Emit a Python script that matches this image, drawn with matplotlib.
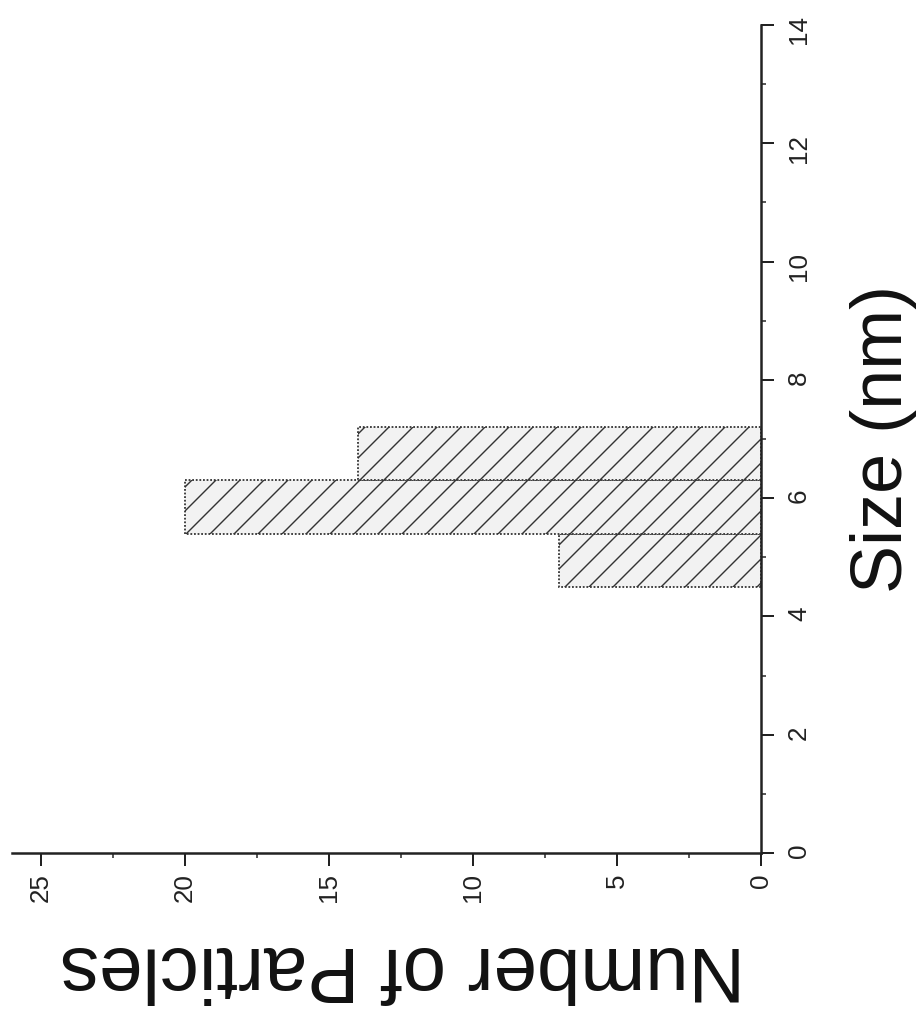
import numpy as np
import matplotlib
matplotlib.use("Agg")
import matplotlib.pyplot as plt
from matplotlib import font_manager
from matplotlib.ticker import MultipleLocator

# ====================== DATA ======================
bin_left = [4.5, 5.4, 6.3]      # size bin start (nm)
bin_width = 0.9
counts = [7, 20, 14]            # number of particles per bin
size_ticks = [0, 2, 4, 6, 8, 10, 12, 14]
count_ticks = [0, 5, 10, 15, 20, 25]

# ====================== FONTS ======================
names = {f.name for f in font_manager.fontManager.ttflist}
WIDE = "Liberation Sans" if "Liberation Sans" in names else "DejaVu Sans"
HAS_NARROW = "Liberation Sans Narrow" in names
NARROW = "Liberation Sans Narrow" if HAS_NARROW else WIDE
# scanned text along the vertical is squeezed; without a narrow face use a smaller size
size_label_fs = 78 if HAS_NARROW else 72
tick_fs = 28 if HAS_NARROW else 26

# the scan is a histogram turned 90 degrees: size runs up, counts run left
W, H, DPI = 923, 1013, 72
fig = plt.figure(figsize=(W / DPI, H / DPI), dpi=DPI)
ax = fig.add_axes([12 / W, 1 - 853 / H, 749 / W, 828 / H])

plt.rcParams['hatch.linewidth'] = 1.4
ax.barh(bin_left, counts, height=bin_width, align='edge',
        facecolor='#f2f2f2', edgecolor='#333333', hatch='/',
        linewidth=1.8, linestyle=(0, (1, 1)))

ax.set_xlim(26, 0)
ax.set_ylim(0, 14)

for side in ['top', 'left']:
    ax.spines[side].set_visible(False)
for side in ['bottom', 'right']:
    ax.spines[side].set_linewidth(2.5)
    ax.spines[side].set_color('#222222')

ax.yaxis.tick_right()
ax.set_xticks(count_ticks)
ax.set_yticks(size_ticks)
ax.xaxis.set_minor_locator(MultipleLocator(2.5))
ax.yaxis.set_minor_locator(MultipleLocator(1))
ax.tick_params(which='major', direction='out', length=13, width=2, color='#222222')
ax.tick_params(which='minor', direction='out', length=5, width=1.5, color='#222222')
ax.tick_params(axis='x', pad=7)
ax.tick_params(axis='y', pad=13)

for lab in ax.get_xticklabels() + ax.get_yticklabels():
    lab.set_rotation(90)
    lab.set_family(NARROW)
    lab.set_fontsize(tick_fs)
    lab.set_color('#222222')

ax.set_xlabel("Number of Particles", family=WIDE, fontsize=78, rotation=180,
              ha='center', va='center', color='#111111')
ax.xaxis.set_label_coords(0.522, -0.138)

ax.yaxis.set_label_position('right')
ax.set_ylabel("Size (nm)", family=NARROW, fontsize=size_label_fs, rotation=90,
              ha='center', va='center', color='#111111')
ax.yaxis.set_label_coords(1.163, 0.5)

fig.savefig("out.png", dpi=DPI)
